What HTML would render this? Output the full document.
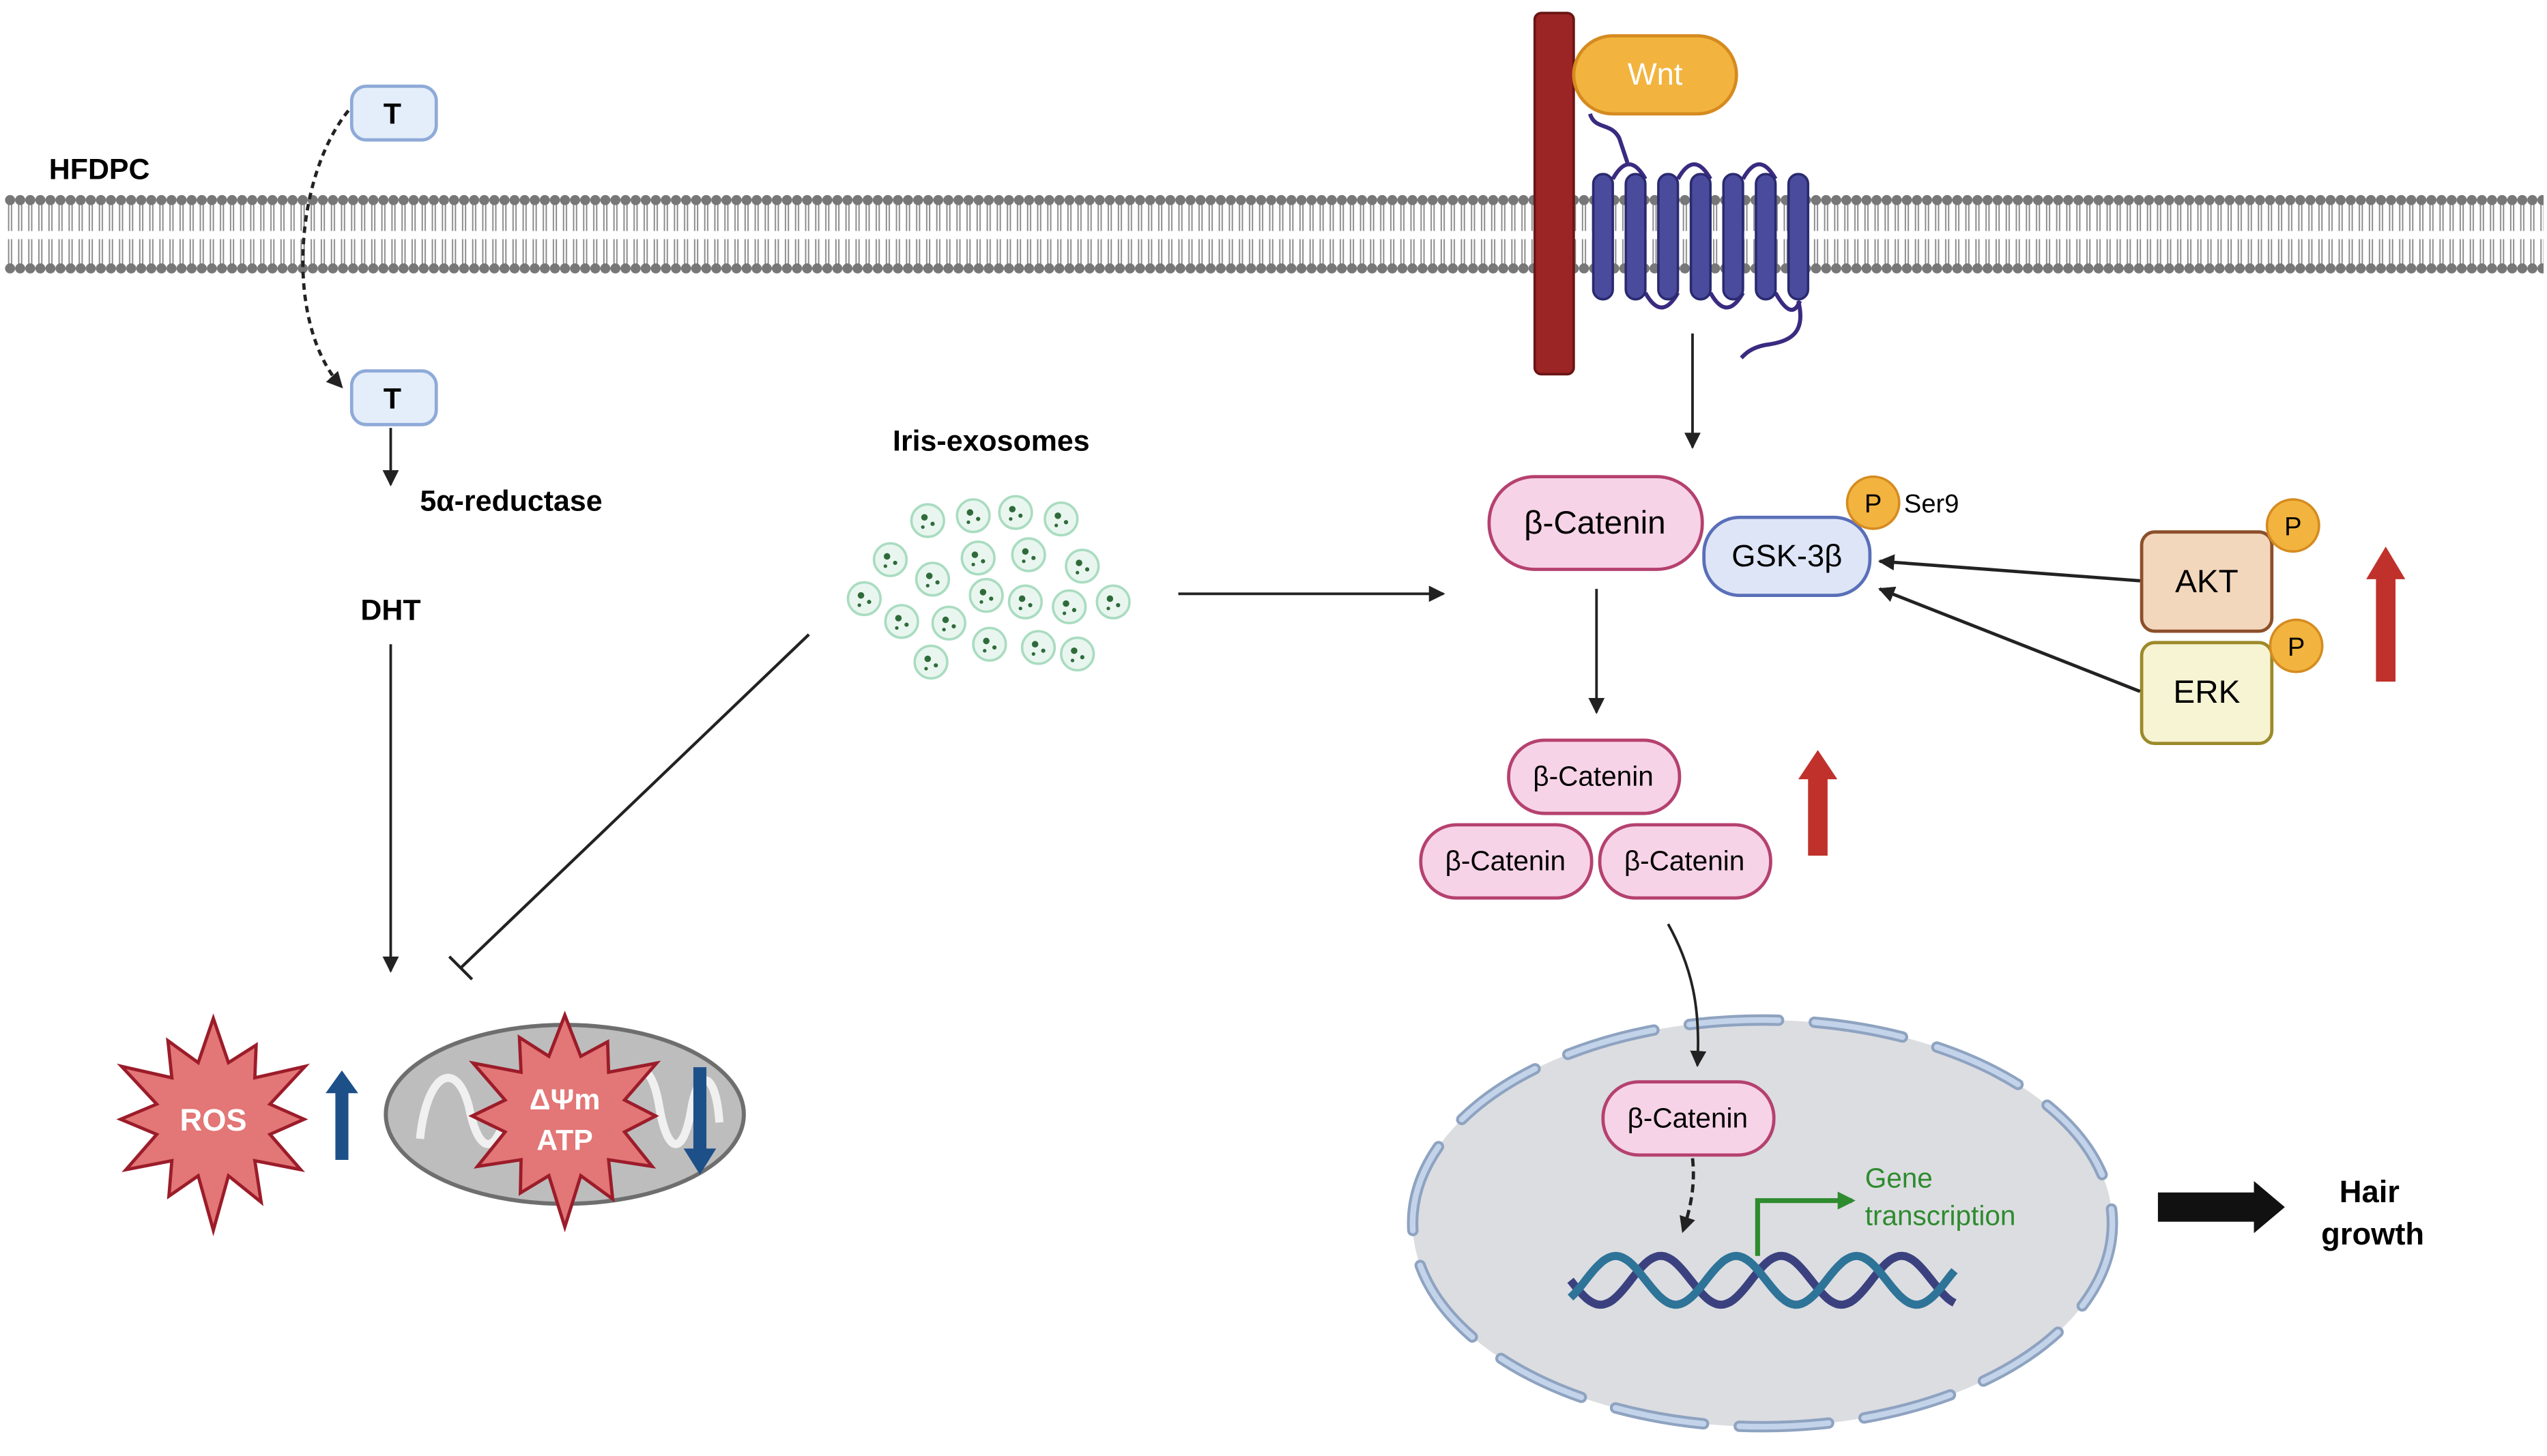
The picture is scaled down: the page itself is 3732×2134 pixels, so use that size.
<!DOCTYPE html>
<html><head><meta charset="utf-8"><style>
html,body{margin:0;padding:0;background:#fff}
svg{display:block}
text{font-family:"Liberation Sans",sans-serif}
</style></head><body>
<svg id="s" width="3732" height="2134" viewBox="0 0 1565 895" xmlns="http://www.w3.org/2000/svg">
<defs>
<marker id="ah" viewBox="0 0 10 10" refX="9" refY="5" markerWidth="10" markerHeight="10" markerUnits="userSpaceOnUse" orient="auto"><path d="M0,0 L10,5 L0,10 Z" fill="#222"/></marker>
<marker id="gh" viewBox="0 0 10 10" refX="8" refY="5" markerWidth="11" markerHeight="11" markerUnits="userSpaceOnUse" orient="auto"><path d="M0,0 L10,5 L0,10 Z" fill="#2e8b2e"/></marker>
<pattern id="mem" x="3" y="0" width="6.2" height="895" patternUnits="userSpaceOnUse">
<line x1="2.2" y1="125" x2="2.2" y2="142" stroke="#888" stroke-width="0.8"/>
<line x1="4" y1="125" x2="4" y2="142" stroke="#888" stroke-width="0.8"/>
<line x1="2.2" y1="147" x2="2.2" y2="163" stroke="#888" stroke-width="0.8"/>
<line x1="4" y1="147" x2="4" y2="163" stroke="#888" stroke-width="0.8"/>
<circle cx="3.1" cy="123" r="3.1" fill="#777"/>
<circle cx="3.1" cy="165" r="3.1" fill="#777"/>
</pattern>
</defs>
<rect x="0" y="0" width="1565" height="895" fill="#fff"/>
<rect x="3" y="118" width="1560" height="52" fill="url(#mem)"/>
<text x="30" y="110" font-size="18" font-weight="bold">HFDPC</text>

<rect x="216" y="53" width="52" height="33" rx="9" fill="#e4eefa" stroke="#8eaad8" stroke-width="2"/>
<text x="241" y="76" font-size="18" font-weight="bold" text-anchor="middle">T</text>
<rect x="216" y="228" width="52" height="33" rx="9" fill="#e4eefa" stroke="#8eaad8" stroke-width="2"/>
<text x="241" y="251" font-size="18" font-weight="bold" text-anchor="middle">T</text>
<path d="M214,68 C180,110 175,200 210,238" fill="none" stroke="#222" stroke-width="2" stroke-dasharray="4,3" marker-end="url(#ah)"/>
<line x1="240" y1="263" x2="240" y2="298" stroke="#222" stroke-width="1.6" marker-end="url(#ah)"/>
<text x="258" y="314" font-size="18" font-weight="bold">5α-reductase</text>
<text x="240" y="381" font-size="18" font-weight="bold" text-anchor="middle">DHT</text>
<line x1="240" y1="396" x2="240" y2="597" stroke="#222" stroke-width="1.6" marker-end="url(#ah)"/>
<line x1="497" y1="390" x2="283" y2="595" stroke="#222" stroke-width="1.8"/>
<line x1="276" y1="588" x2="290" y2="602" stroke="#222" stroke-width="1.8"/>

<text x="609" y="277" font-size="18" font-weight="bold" text-anchor="middle">Iris-exosomes</text>
<g id="exo"></g>
<line x1="724" y1="365" x2="887" y2="365" stroke="#222" stroke-width="1.6" marker-end="url(#ah)"/>

<polygon id="ros" fill="#e37676" stroke="#9c1c2a" stroke-width="2"/>
<text x="131" y="695" font-size="19" font-weight="bold" fill="#fff" text-anchor="middle">ROS</text>
<path d="M210,658 L220,672 L214,672 L214,713 L206,713 L206,672 L200,672 Z" fill="#1d5088"/>

<ellipse cx="347" cy="685" rx="110" ry="55" fill="#bdbdbd" stroke="#6e6e6e" stroke-width="2.5"/>
<path d="M258,700 C262,660 280,650 288,680 C294,710 305,712 312,680 M380,680 C388,650 400,650 405,680 C410,710 420,712 425,680 C430,655 440,660 442,690" fill="none" stroke="#f0f0f0" stroke-width="5"/>
<polygon id="mst" fill="#e37676" stroke="#9c1c2a" stroke-width="2"/>
<text x="347" y="682" font-size="18" font-weight="bold" fill="#fff" text-anchor="middle">ΔΨm</text>
<text x="347" y="707" font-size="18" font-weight="bold" fill="#fff" text-anchor="middle">ATP</text>
<path d="M430,722 L440,706 L434,706 L434,656 L426,656 L426,706 L420,706 Z" fill="#1d5088"/>

<g fill="none" stroke="#3a2a80" stroke-width="2.5">
<path d="M977,70 C980,80 990,75 995,85 L1000,100"/>
<path d="M991,110 Q1001,92 1011,110 M1031,110 Q1041,92 1051,110 M1071,110 Q1081,92 1091,110"/>
<path d="M1011,180 Q1021,198 1031,180 M1051,180 Q1061,198 1071,180 M1091,180 Q1101,198 1106,185"/>
<path d="M1105,185 C1110,205 1100,210 1085,212 C1075,214 1072,218 1070,220"/>
</g>
<g fill="#4b4b9e" stroke="#2a2a70" stroke-width="1.5">
<rect x="979" y="107" width="12" height="77" rx="6"/>
<rect x="999" y="107" width="12" height="77" rx="6"/>
<rect x="1019" y="107" width="12" height="77" rx="6"/>
<rect x="1039" y="107" width="12" height="77" rx="6"/>
<rect x="1059" y="107" width="12" height="77" rx="6"/>
<rect x="1079" y="107" width="12" height="77" rx="6"/>
<rect x="1099" y="107" width="12" height="77" rx="6"/>
</g>
<rect x="943" y="8" width="24" height="222" rx="4" fill="#9b2424" stroke="#6a1414" stroke-width="1.5"/>
<rect x="967" y="22" width="100" height="48" rx="24" fill="#f2b43e" stroke="#d58b20" stroke-width="2"/>
<text x="1017" y="52" font-size="19" fill="#fff" text-anchor="middle">Wnt</text>
<line x1="1040" y1="205" x2="1040" y2="275" stroke="#222" stroke-width="1.6" marker-end="url(#ah)"/>

<rect x="915" y="293" width="131" height="57" rx="28" fill="#f7d3e7" stroke="#b5416f" stroke-width="2"/>
<text x="980" y="328" font-size="20" text-anchor="middle">β-Catenin</text>
<rect x="1047" y="318" width="102" height="48" rx="22" fill="#dde5f7" stroke="#5a6fb8" stroke-width="2"/>
<text x="1098" y="348" font-size="19" text-anchor="middle">GSK-3β</text>
<circle cx="1151" cy="309" r="16" fill="#f2b43e" stroke="#d58b20" stroke-width="1.5"/>
<text x="1151" y="315" font-size="16" text-anchor="middle">P</text>
<text x="1170" y="315" font-size="16">Ser9</text>

<rect x="1316" y="327" width="80" height="61" rx="8" fill="#f3d7bc" stroke="#8c4f2a" stroke-width="2"/>
<text x="1356" y="364" font-size="20" text-anchor="middle">AKT</text>
<rect x="1316" y="395" width="80" height="62" rx="8" fill="#f7f4d4" stroke="#9c8a2a" stroke-width="2"/>
<text x="1356" y="432" font-size="20" text-anchor="middle">ERK</text>
<circle cx="1409" cy="323" r="16" fill="#f2b43e" stroke="#d58b20" stroke-width="1.5"/>
<text x="1409" y="329" font-size="16" text-anchor="middle">P</text>
<circle cx="1411" cy="397" r="16" fill="#f2b43e" stroke="#d58b20" stroke-width="1.5"/>
<text x="1411" y="403" font-size="16" text-anchor="middle">P</text>
<line x1="1315" y1="357" x2="1155" y2="345" stroke="#222" stroke-width="2" marker-end="url(#ah)"/>
<line x1="1315" y1="425" x2="1155" y2="362" stroke="#222" stroke-width="2" marker-end="url(#ah)"/>
<path d="M1466,336 L1478,356 L1472,356 L1472,419 L1460,419 L1460,356 L1454,356 Z" fill="#c0312b"/>

<line x1="981" y1="362" x2="981" y2="438" stroke="#222" stroke-width="1.6" marker-end="url(#ah)"/>
<rect x="927" y="455" width="105" height="45" rx="22" fill="#f7d3e7" stroke="#b5416f" stroke-width="2"/>
<text x="979" y="483" font-size="17" text-anchor="middle">β-Catenin</text>
<rect x="873" y="507" width="105" height="45" rx="22" fill="#f7d3e7" stroke="#b5416f" stroke-width="2"/>
<text x="925" y="535" font-size="17" text-anchor="middle">β-Catenin</text>
<rect x="983" y="507" width="105" height="45" rx="22" fill="#f7d3e7" stroke="#b5416f" stroke-width="2"/>
<text x="1035" y="535" font-size="17" text-anchor="middle">β-Catenin</text>
<path d="M1117,461 L1129,479 L1123,479 L1123,526 L1111,526 L1111,479 L1105,479 Z" fill="#c0312b"/>

<ellipse cx="1083" cy="752" rx="215" ry="125" fill="#dcdde1"/>
<ellipse cx="1083" cy="752" rx="215" ry="125" fill="none" stroke="#8ea3c0" stroke-width="7" stroke-linecap="round" stroke-dasharray="55,22"/>
<ellipse cx="1083" cy="752" rx="215" ry="125" fill="none" stroke="#c3d3ea" stroke-width="3.5" stroke-linecap="round" stroke-dasharray="55,22"/>
<path d="M1025,568 C1040,595 1045,620 1043,655" fill="none" stroke="#222" stroke-width="1.6" marker-end="url(#ah)"/>
<rect x="985" y="665" width="105" height="45" rx="22" fill="#f7d3e7" stroke="#b5416f" stroke-width="2"/>
<text x="1037" y="693" font-size="17" text-anchor="middle">β-Catenin</text>
<path d="M1040,712 C1042,730 1038,745 1034,757" fill="none" stroke="#222" stroke-width="2" stroke-dasharray="5,3" marker-end="url(#ah)"/>
<path id="d1" fill="none" stroke="#3b417f" stroke-width="5"/>
<path id="d2" fill="none" stroke="#2e7398" stroke-width="5"/>
<path d="M1080,772 L1080,738 L1138,738" fill="none" stroke="#2e8b2e" stroke-width="3" marker-end="url(#gh)"/>
<text x="1146" y="730" font-size="17" fill="#2e8b2e">Gene</text>
<text x="1146" y="753" font-size="17" fill="#2e8b2e">transcription</text>

<path d="M1326,733 L1385,733 L1385,726 L1404,742 L1385,758 L1385,751 L1326,751 Z" fill="#111"/>
<text x="1456" y="739" font-size="19" font-weight="bold" text-anchor="middle">Hair</text>
<text x="1458" y="765" font-size="19" font-weight="bold" text-anchor="middle">growth</text>
</svg>
<script>
function star(cx,cy,ro,ri,n,id){var p=[];var j=[1,0.85,1.05,0.9,1,0.95,1.1,0.88,1,0.92,1.05,0.9,1,0.95];for(var i=0;i<2*n;i++){var a=-Math.PI/2+i*Math.PI/n;var r=i%2?ri:ro*j[(i/2|0)%j.length];p.push((cx+r*Math.cos(a)).toFixed(1)+','+(cy+r*Math.sin(a)).toFixed(1));}document.getElementById(id).setAttribute('points',p.join(' '));}
star(131,688,62,36,12,'ros');star(347,686,62,38,12,'mst');
var ex=[[570,320],[598,317],[624,315],[652,319],[547,344],[573,356],[601,343],[632,341],[665,348],[531,368],[554,382],[583,383],[606,366],[630,370],[657,373],[684,370],[608,396],[638,398],[662,402],[572,407]];
var g=document.getElementById('exo'),h='';ex.forEach(function(e){h+='<circle cx="'+e[0]+'" cy="'+e[1]+'" r="10" fill="#e9f6ef" stroke="#a9dcc0" stroke-width="1.5"/><circle cx="'+(e[0]-2)+'" cy="'+(e[1]-2)+'" r="2" fill="#2f6b3a"/><circle cx="'+(e[0]+3)+'" cy="'+(e[1]+2)+'" r="1.3" fill="#2f6b3a"/><circle cx="'+(e[0]-3)+'" cy="'+(e[1]+4)+'" r="1.1" fill="#2f6b3a"/>';});g.innerHTML=h;
function dna(ph,id){var d='';for(var x=965;x<=1202;x+=2){var y=787+15*Math.sin((x-965)/37*Math.PI+ph);d+=(x==965?'M':'L')+x+','+y.toFixed(1);}document.getElementById(id).setAttribute('d',d);}
dna(0,'d1');dna(Math.PI*0.75,'d2');
</script>
</body></html>
